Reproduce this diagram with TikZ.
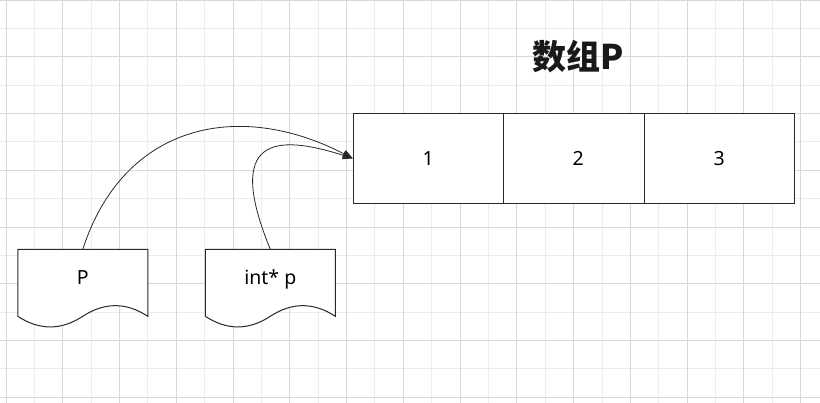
\documentclass[tikz,border=0pt]{standalone}
\usepackage{fontspec}
\setmainfont{Noto Sans}
\newfontfamily\cjk{Noto Sans CJK SC}
\usetikzlibrary{arrows.meta}
\definecolor{gridmajor}{RGB}{216,216,216}
\definecolor{gridminor}{RGB}{236,236,236}
\definecolor{ink}{RGB}{40,40,40}
\tikzset{
  majorgrid/.style={draw=gridmajor, line width=0.9pt},
  minorgrid/.style={draw=gridminor, line width=0.9pt},
  shapeline/.style={draw=ink, line width=1pt, fill=white},
  cell/.style={shapeline, rectangle, minimum height=89.8pt, inner sep=0pt,
    font=\fontsize{19.5}{23}\selectfont, text=black},
  doclabel/.style={inner sep=0pt, anchor=base, font=\fontsize{19.5}{23}\selectfont, text=black},
  conn/.style={draw=ink, line width=0.8pt, -{Triangle[length=10pt,width=8pt]}},
  titletext/.style={inner sep=0pt, anchor=base, font=\cjk\bfseries\fontsize{34}{40}\selectfont, text=black!90},
  docpic/.pic={
    \draw[shapeline] (0,0) -- (130,0) -- (130,67)
      .. controls (108.33,52.8) and (86.67,52.8) .. (65,67)
      .. controls (43.33,81.17) and (21.67,81.17) .. (0,67) -- cycle;
    \coordinate (-top) at (65,0);
  }
}
\begin{document}
\begin{tikzpicture}[x=1pt,y=-1pt]
\useasboundingbox (0,0) rectangle (820,403);
\fill[white] (0,0) rectangle (820,403);
% grid
\foreach \i in {0,...,13} \draw[minorgrid] ({34.38+\i*56.76},0) -- ++(0,403);
\foreach \i in {0,...,6} \draw[minorgrid] (0,{28.38+\i*56.76}) -- ++(820,0);
\foreach \i in {0,...,14} \draw[majorgrid] ({6+\i*56.76},0) -- ++(0,403);
\foreach \i in {0,...,7} \draw[majorgrid] (0,{\i*56.76}) -- ++(820,0);

% title
\node[titletext] (title) at (578.5,70) {数组P};

% array cells
\node[cell, minimum width=150pt] (c1) at (428.3,158.4) {1};
\node[cell, minimum width=150pt] (c2) at (578.3,158.4) {2};
\node[cell, minimum width=150pt] (c3) at (719.3,158.4) {3};

% document shapes
\pic (dP) at (17.8,249.3) {docpic};
\pic (dp) at (205.3,249.3) {docpic};
\node[doclabel] (lP) at (82.8,285) {P};
\node[doclabel] (lp) at (270.3,285) {int* p};

% connectors
\draw[conn] (dP-top) .. controls +(40,-124) and +(-116,-60) .. (c1.west);
\draw[conn] (dp-top) .. controls +(-46,-112) and +(-78,-25) .. (c1.west);
\end{tikzpicture}
\end{document}
